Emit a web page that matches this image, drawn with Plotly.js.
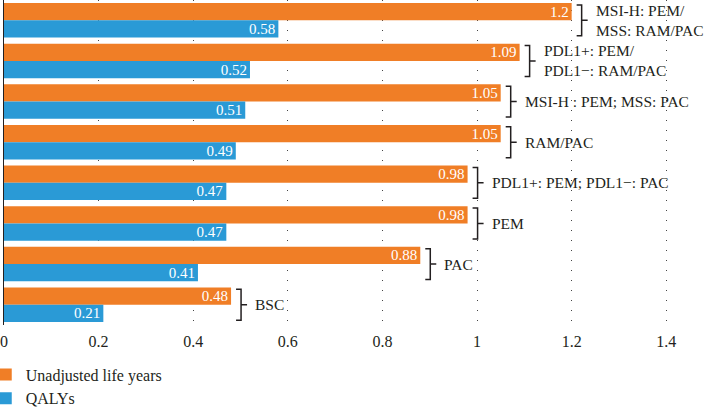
<!DOCTYPE html>
<html>
<head>
<meta charset="utf-8">
<script src="https://cdn.plot.ly/plotly-3.0.1.min.js"></script>
<style>
  html, body { margin: 0; padding: 0; background: #fff; }
  #chart { width: 706px; height: 420px; }
</style>
</head>
<body>
<div id="chart"></div>
<script>
// strategies, top to bottom
var groups = [
  'MSI-H: PEM/<br>MSS: RAM/PAC',
  'PDL1+: PEM/<br>PDL1\u2212: RAM/PAC',
  'MSI-H : PEM; MSS: PAC',
  'RAM/PAC',
  'PDL1+: PEM; PDL1\u2212: PAC',
  'PEM',
  'PAC',
  'BSC'
];
var lifeYears = [1.2, 1.09, 1.05, 1.05, 0.98, 0.98, 0.88, 0.48];
var qalys = [0.58, 0.52, 0.51, 0.49, 0.47, 0.47, 0.41, 0.21];
var xTicks = [0, 0.2, 0.4, 0.6, 0.8, 1, 1.2, 1.4];

var serif = 'Liberation Serif, Times New Roman, serif';
var ink = '#231f20';
var pos = groups.map(function(g, i){ return i; });

var life_bars = {
  type: 'bar',
  orientation: 'h',
  name: 'Unadjusted life years',
  x: lifeYears,
  y: pos,
  marker: {color: '#f07e26'},
  texttemplate: '%{x}',
  textposition: 'inside',
  insidetextanchor: 'end',
  constraintext: 'none',
  textfont: {family: serif, size: 15, color: '#ffffff'},
  hoverinfo: 'x'
};

var qaly_bars = {
  type: 'bar',
  orientation: 'h',
  name: 'QALYs',
  x: qalys,
  y: pos,
  marker: {color: '#2a9ad6'},
  texttemplate: '%{x}',
  textposition: 'inside',
  insidetextanchor: 'end',
  constraintext: 'none',
  textfont: {family: serif, size: 15, color: '#ffffff'},
  hoverinfo: 'x'
};

// bracket next to each pair of bars, anchored at the longer (orange) bar
var shapes = pos.map(function(p, i){
  var y0 = p - 0.38, y1 = p + 0.38;
  return {
    type: 'path',
    xref: 'x', yref: 'y',
    xsizemode: 'pixel',
    xanchor: lifeYears[i],
    path: 'M 5,' + y0 + ' L 10,' + y0 + ' L 10,' + y1 + ' L 5,' + y1 +
          ' M 10,' + p + ' L 16,' + p,
    line: {color: ink, width: 1.5}
  };
});

var annotations = pos.map(function(p, i){
  return {
    x: lifeYears[i], y: p,
    xref: 'x', yref: 'y',
    xanchor: 'left', yanchor: 'middle',
    xshift: 22,
    align: 'left',
    showarrow: false,
    text: groups[i],
    font: {family: serif, size: 15.5, color: ink}
  };
});

var layout = {
  width: 706,
  height: 420,
  margin: {l: 4, r: 0, t: 0, b: 95, autoexpand: false},
  paper_bgcolor: '#ffffff',
  plot_bgcolor: '#ffffff',
  font: {family: serif, size: 16, color: ink},
  barmode: 'group',
  bargap: 0.15,
  bargroupgap: 0,
  showlegend: true,
  legend: {
    x: -0.026, xanchor: 'left',
    y: -0.1, yanchor: 'top',
    orientation: 'v',
    font: {family: serif, size: 16, color: ink},
    traceorder: 'normal'
  },
  xaxis: {
    range: [0, 1.484],
    tickvals: xTicks,
    ticktext: xTicks.map(String),
    showgrid: true,
    gridcolor: '#444',
    gridwidth: 1,
    griddash: '1px,9px',
    zeroline: false,
    showline: false,
    ticks: '',
    ticklabelstandoff: 5,
    tickfont: {family: serif, size: 16, color: ink}
  },
  yaxis: {
    range: [7.5, -0.5],
    showticklabels: false,
    showgrid: false,
    zeroline: false,
    showline: true,
    linecolor: ink,
    linewidth: 1.5,
    ticks: ''
  },
  shapes: shapes,
  annotations: annotations
};

Plotly.newPlot('chart', [life_bars, qaly_bars], layout, {displayModeBar: false, staticPlot: true});
</script>
</body>
</html>
